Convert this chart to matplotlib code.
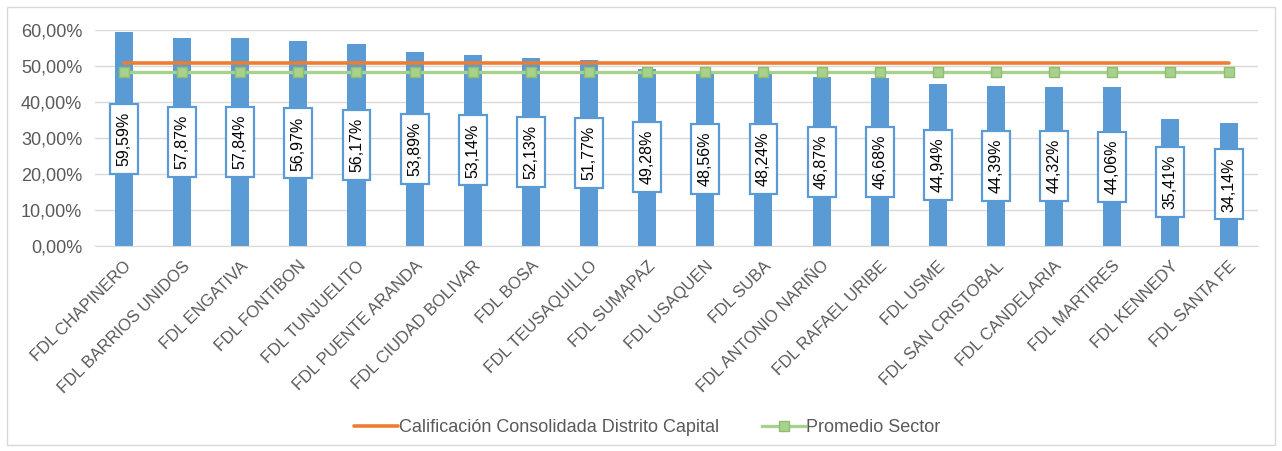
import matplotlib.pyplot as plt
from matplotlib.patches import Rectangle
from matplotlib.ticker import FuncFormatter

# DATA

fondos = [
    "FDL CHAPINERO", "FDL BARRIOS UNIDOS", "FDL ENGATIVA", "FDL FONTIBON",
    "FDL TUNJUELITO", "FDL PUENTE ARANDA", "FDL CIUDAD BOLIVAR", "FDL BOSA",
    "FDL TEUSAQUILLO", "FDL SUMAPAZ", "FDL USAQUEN", "FDL SUBA",
    "FDL ANTONIO NARIÑO", "FDL RAFAEL URIBE", "FDL USME", "FDL SAN CRISTOBAL",
    "FDL CANDELARIA", "FDL MARTIRES", "FDL KENNEDY", "FDL SANTA FE",
]
calificacion = [
    59.59, 57.87, 57.84, 56.97, 56.17, 53.89, 53.14, 52.13, 51.77, 49.28,
    48.56, 48.24, 46.87, 46.68, 44.94, 44.39, 44.32, 44.06, 35.41, 34.14,
]
consolidada_dc = 51.0
promedio_sector = 48.35

# STYLE

BLUE = "#5B9BD5"
ORANGE = "#ED7D31"
GREEN = "#A9D18E"
GREY_TXT = "#595959"
GRID = "#D9D9D9"

plt.rcParams["font.family"] = ["Liberation Sans", "DejaVu Sans"]

fig = plt.figure(figsize=(12.82, 4.51), dpi=100)
ax = fig.add_axes([0.074, 0.455, 0.907, 0.478])

# outer chart border
fig.patches.append(Rectangle((0.0055, 0.013), 0.989, 0.972, transform=fig.transFigure,
                             fill=False, edgecolor=GRID, linewidth=1.0))

x = list(range(len(fondos)))
vals = [v / 100 for v in calificacion]

ax.bar(x, vals, width=0.31, color=BLUE, zorder=2)
ax.plot(x, [consolidada_dc / 100] * len(x), color=ORANGE, linewidth=2.6,
        solid_capstyle="round", zorder=3, label="Calificación Consolidada Distrito Capital")
ax.plot(x, [promedio_sector / 100] * len(x), color=GREEN, linewidth=2.4,
        marker="s", markersize=6.5, markerfacecolor=GREEN, markeredgecolor="#8DBF6E",
        zorder=3, label="Promedio Sector")

# data labels: fixed-size white boxes centred at half of each bar
BOX_W, BOX_H = 0.48, 0.195
for xi, v, raw in zip(x, vals, calificacion):
    ax.add_patch(Rectangle((xi - BOX_W / 2, v / 2 - BOX_H / 2), BOX_W, BOX_H,
                           facecolor="white", edgecolor=BLUE, linewidth=1.6, zorder=4))
    txt = f"{raw:.2f}%".replace(".", ",")
    ax.text(xi, v / 2, txt, rotation=90, ha="center", va="center", fontsize=11.5,
            color="black", zorder=5)

ax.set_xlim(-0.5, len(fondos) - 0.5)
ax.set_ylim(0, 0.6)
ax.set_yticks([0, 0.1, 0.2, 0.3, 0.4, 0.5, 0.6])
ax.yaxis.set_major_formatter(FuncFormatter(lambda v, p: f"{v * 100:.2f}%".replace(".", ",")))
ax.grid(axis="y", color=GRID, linewidth=1.0, zorder=0)
ax.set_axisbelow(True)

for s in ["top", "right", "left"]:
    ax.spines[s].set_visible(False)
ax.spines["bottom"].set_color(GRID)

ax.set_xticks(x)
ax.set_xticklabels(fondos, rotation=45, ha="right", rotation_mode="anchor")
ax.tick_params(axis="both", length=0, colors=GREY_TXT)
ax.tick_params(axis="y", labelsize=13, pad=9)
ax.tick_params(axis="x", labelsize=12, pad=9)

fig.legend(loc="center", bbox_to_anchor=(0.505, 0.052), ncol=2, frameon=False,
           fontsize=13, labelcolor=GREY_TXT, handlelength=2.4, columnspacing=2.4,
           handletextpad=0.05)

plt.savefig("out.png", dpi=100)
plt.close()
